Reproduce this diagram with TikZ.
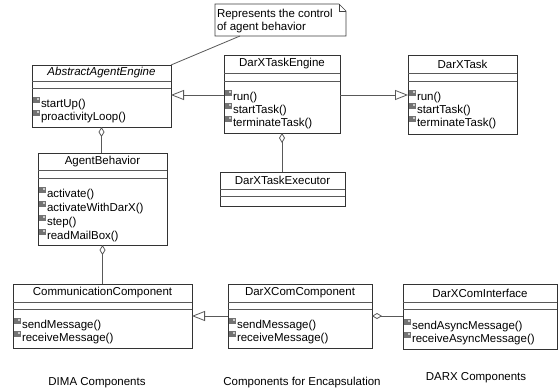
\documentclass[tikz,border=0pt]{standalone}
\usepackage{fontspec}
\setmainfont{Liberation Sans}
\usetikzlibrary{arrows.meta,fit}

\tikzset{
  clsbox/.style={draw=black!80, line width=0.8pt, fill=white, inner sep=0pt, outer sep=0pt},
  compline/.style={draw=black!65, line width=0.6pt},
  clstitle/.style={inner sep=0pt, outer sep=0pt},
  optext/.style={anchor=base west, inner sep=0pt, outer sep=0pt},
  opicon/.style={fill=black!55},
  opdot/.style={fill=black!20},
  assoc/.style={draw=black!65, line width=0.8pt},
  genarrow/.style={-{Triangle[open, length=13pt, width=10pt, fill=white]}},
  aggdiamond/.style={{Diamond[open, length=10pt, width=6pt, fill=white]}-},
  notebox/.style={draw=black!75, line width=0.6pt, fill=white},
  grouplabel/.style={inner sep=0pt, outer sep=0pt}
}

% class box: name, left, top, right, bottom, header bottom, attribute bottom, title
\newcommand{\umlclass}[8]{%
  \node[clsbox, fit={(#2,#3) (#4,#5)}] (#1) {};
  \draw[compline] (#2,#6) -- (#4,#6);
  \draw[compline] (#2,#7) -- (#4,#7);
  \node[clstitle] (#1-title) at ({(#2+#4)/2},{(#3+#6)/2}) {#8};
}

% operation line: class, left edge, baseline, text
\newcommand{\umlop}[4]{%
  \fill[opicon] (#2+0.5,#3-10) rectangle (#2+8,#3-4);
  \fill[opdot] (#2+4.5,#3-9.5) rectangle (#2+6.5,#3-7.5);
  \node[optext] (#1-op-#3) at (#2+9,#3) {#4};
}

\begin{document}
\begin{tikzpicture}[x=1pt, y=-1pt, font=\fontsize{11.5}{13}\selectfont]
\useasboundingbox[fill=white] (0,0) rectangle (560,391);

% comment note
\node[inner sep=0pt, outer sep=0pt, fit={(215,4) (346,36)}] (note) {};
\draw[notebox] (note.north west) -- ([xshift=-7pt]note.north east)
  -- ([yshift=-7pt]note.north east) -- (note.south east) -- (note.south west) -- cycle;
\draw[notebox, fill=none] ([xshift=-7pt]note.north east) -- ([xshift=-7pt, yshift=-7pt]note.north east)
  -- ([yshift=-7pt]note.north east);
\node[optext] (note-l1) at (217,17) {Represents the control};
\node[optext] (note-l2) at (217,30) {of agent behavior};

% classes
\umlclass{aae}{32}{65}{171}{127}{81}{88}{\itshape AbstractAgentEngine}
\umlop{aae}{32}{107}{startUp()}
\umlop{aae}{32}{120}{proactivityLoop()}

\umlclass{engine}{224}{55}{340}{133}{73}{81}{DarXTaskEngine}
\umlop{engine}{224}{100}{run()}
\umlop{engine}{224}{113}{startTask()}
\umlop{engine}{224}{126}{terminateTask()}

\umlclass{task}{408}{55}{517}{134}{73}{81}{DarXTask}
\umlop{task}{408}{100}{run()}
\umlop{task}{408}{113}{startTask()}
\umlop{task}{408}{126}{terminateTask()}

\umlclass{exec}{220}{172}{345}{206}{189}{196}{DarXTaskExecutor}

\umlclass{behav}{38}{153}{167}{245}{170}{178}{AgentBehavior}
\umlop{behav}{38}{197}{activate()}
\umlop{behav}{38}{211}{activateWithDarX()}
\umlop{behav}{38}{225}{step()}
\umlop{behav}{38}{239}{readMailBox()}

\umlclass{comm}{13}{284}{192}{348}{302}{309}{CommunicationComponent}
\umlop{comm}{13}{328}{sendMessage()}
\umlop{comm}{13}{341}{receiveMessage()}

\umlclass{comcomp}{228}{284}{372}{348}{302}{309}{DarXComComponent}
\umlop{comcomp}{228}{328}{sendMessage()}
\umlop{comcomp}{228}{341}{receiveMessage()}

\umlclass{comif}{403}{284}{557}{349}{302}{309}{DarXComInterface}
\umlop{comif}{403}{329}{sendAsyncMessage()}
\umlop{comif}{403}{342}{receiveAsyncMessage()}

% relations
\draw[assoc] ([xshift=25pt]note.south west) -- (aae.north east);
\draw[assoc, genarrow] (engine.west |- 0,95) -- (aae.east |- 0,95);
\draw[assoc, genarrow] (engine.east |- 0,95) -- (task.west |- 0,95);
\draw[assoc, aggdiamond] (aae.south) -- (aae.south |- behav.north);
\draw[assoc, aggdiamond] (engine.south) -- (engine.south |- exec.north);
\draw[assoc, aggdiamond] (behav.south) -- (behav.south |- comm.north);
\draw[assoc, genarrow] (comcomp.west |- 0,316) -- (comm.east |- 0,316);
\draw[assoc, aggdiamond] (comcomp.east |- 0,316) -- (comif.west |- 0,316);

% group captions
\node[grouplabel] (lbl-dima) at (97,383) {DIMA Components};
\node[grouplabel] (lbl-enc) at (302,383) {Components for Encapsulation};
\node[grouplabel] (lbl-darx) at (476,378) {DARX Components};
\end{tikzpicture}
\end{document}
